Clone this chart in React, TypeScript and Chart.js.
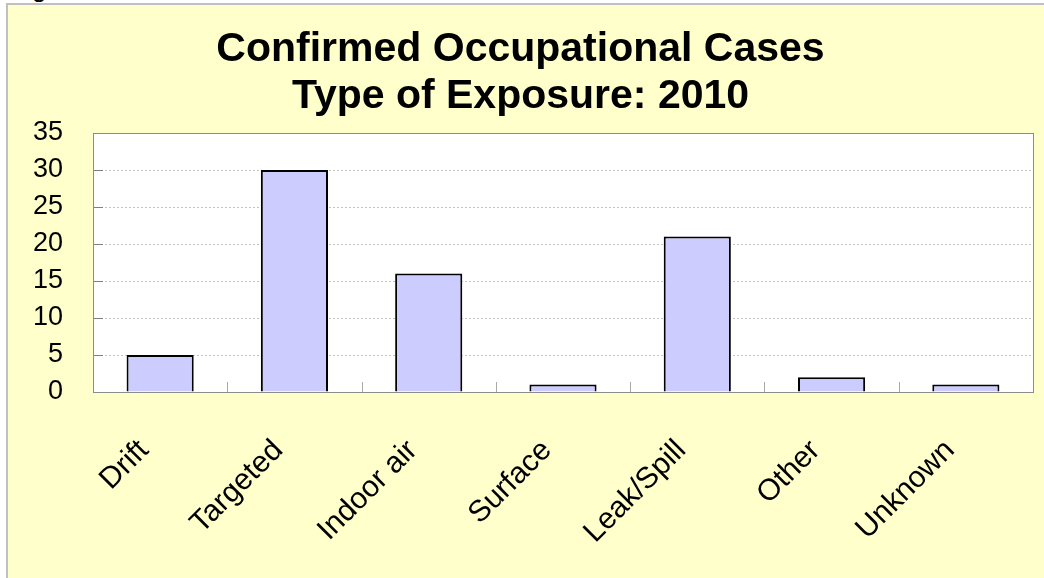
import React, { useEffect, useRef } from 'react';
import { Chart, registerables } from 'chart.js';

Chart.register(...registerables);

const categories = ['Drift', 'Targeted', 'Indoor air', 'Surface', 'Leak/Spill', 'Other', 'Unknown'];
const cases = [5, 30, 16, 1, 21, 2, 1];
const titleLines = ['Confirmed Occupational Cases', 'Type of Exposure: 2010'];
const yMin = 0;
const yMax = 35;
const yStep = 5;

const FONT = "'Liberation Sans', Arial, sans-serif";

const plotFrame = {
  id: 'plotFrame',
  beforeDraw(chart: any) {
    const { ctx, chartArea: a } = chart;
    ctx.save();
    ctx.fillStyle = '#ffffff';
    ctx.fillRect(a.left, a.top, a.right - a.left, a.bottom - a.top);
    ctx.restore();
  },
  afterDraw(chart: any) {
    const { ctx, chartArea: a, scales } = chart;
    ctx.save();
    ctx.lineWidth = 1;
    const ys = scales.y;
    ctx.strokeStyle = '#808080';
    ctx.beginPath();
    ys.ticks.forEach((t: any) => {
      const py = Math.round(ys.getPixelForValue(t.value)) + 0.5;
      ctx.moveTo(a.left, py);
      ctx.lineTo(a.left + 10, py);
    });
    ctx.stroke();
    const xs = scales.x;
    ctx.strokeStyle = '#a8a8a8';
    ctx.beginPath();
    for (let i = 1; i < categories.length; i++) {
      const px = Math.round((xs.getPixelForTick(i - 1) + xs.getPixelForTick(i)) / 2) + 0.5;
      ctx.moveTo(px, a.bottom);
      ctx.lineTo(px, a.bottom - 10);
    }
    ctx.stroke();
    ctx.strokeStyle = '#8c8c8c';
    ctx.strokeRect(
      Math.round(a.left) + 0.5,
      Math.round(a.top) + 0.5,
      Math.round(a.right - a.left),
      Math.round(a.bottom - a.top)
    );
    ctx.restore();
  },
};

export default function App() {
  const ref = useRef<HTMLCanvasElement | null>(null);

  useEffect(() => {
    if (!ref.current) return;
    const chart = new Chart(ref.current, {
      type: 'bar',
      data: {
        labels: categories,
        datasets: [
          {
            data: cases,
            backgroundColor: '#CCCCFF',
            borderColor: '#000000',
            borderWidth: 2,
            barPercentage: 0.5,
            categoryPercentage: 1,
          },
        ],
      },
      options: {
        animation: false,
        responsive: false,
        devicePixelRatio: 1,
        layout: { padding: { left: 8, right: 11, top: 0, bottom: 0 } },
        plugins: {
          legend: { display: false },
          tooltip: { enabled: false },
          title: {
            display: true,
            text: titleLines,
            color: '#000000',
            font: { family: FONT, size: 41, weight: 'bold', lineHeight: '47px' },
            padding: { top: 26, bottom: 13 },
          },
        },
        scales: {
          x: {
            grid: { display: false, drawTicks: false },
            border: { display: false },
            ticks: {
              color: '#000000',
              font: { family: FONT, size: 30 },
              minRotation: 45,
              maxRotation: 45,
              autoSkip: false,
              padding: 41,
              labelOffset: -16,
            },
            afterFit(scale: any) {
              scale.height = 186;
            },
          },
          y: {
            min: yMin,
            max: yMax,
            grid: { color: '#c4c4c4', lineWidth: 1, drawTicks: false },
            border: { display: false, dash: [2, 2] },
            ticks: {
              stepSize: yStep,
              color: '#000000',
              font: { family: FONT, size: 27 },
              padding: 30,
            },
            afterFit(scale: any) {
              scale.width = 85;
            },
          },
        },
      },
      plugins: [plotFrame],
    } as any);
    return () => chart.destroy();
  }, []);

  return (
    <div style={{ position: 'absolute', left: 0, top: 0, width: 1044, height: 578, overflow: 'hidden' }}>
      <div
        style={{
          position: 'absolute',
          left: 6,
          top: 3,
          width: 1100,
          height: 700,
          background: '#FFFFCC',
          border: '2px solid #c0c0c0',
          boxSizing: 'border-box',
        }}
      />
      <div
        style={{
          position: 'absolute',
          left: 32,
          top: -25,
          font: `26px ${FONT}`,
          lineHeight: '26px',
          color: '#000',
        }}
      >
        g
      </div>
      <canvas
        ref={ref}
        width={1044}
        height={578}
        style={{ position: 'absolute', left: 0, top: 0, width: 1044, height: 578 }}
      />
    </div>
  );
}
